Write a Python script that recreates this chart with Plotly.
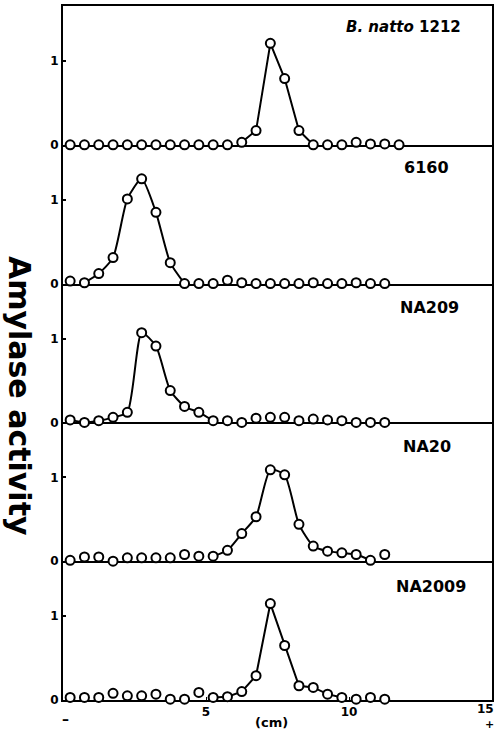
import plotly.graph_objects as go
from plotly.subplots import make_subplots

# ---------------- data ----------------
panel_labels = ["<i>B. natto</i> 1212", "6160", "NA209", "NA20", "NA2009"]

x_natto = [0.25, 0.75, 1.25, 1.75, 2.25, 2.75, 3.25, 3.75, 4.25, 4.75, 5.25, 5.75,
           6.25, 6.75, 7.25, 7.75, 8.25, 8.75, 9.25, 9.75, 10.25, 10.75, 11.25, 11.75]
y_natto = [0.0, 0.0, 0.0, 0.0, 0.0, 0.0, 0.0, 0.0, 0.0, 0.0, 0.0, 0.0,
           0.03, 0.17, 1.21, 0.79, 0.17, 0.0, 0.0, 0.0, 0.03, 0.01, 0.01, 0.0]

x_6160 = [0.25, 0.75, 1.25, 1.75, 2.25, 2.75, 3.25, 3.75, 4.25, 4.75, 5.25, 5.75,
          6.25, 6.75, 7.25, 7.75, 8.25, 8.75, 9.25, 9.75, 10.25, 10.75, 11.25]
y_6160 = [0.03, 0.01, 0.12, 0.31, 1.01, 1.25, 0.85, 0.25, 0.0, 0.0, 0.0, 0.04,
          0.01, 0.0, 0.0, 0.0, 0.0, 0.01, 0.0, 0.0, 0.01, 0.0, 0.0]

x_na209 = [0.25, 0.75, 1.25, 1.75, 2.25, 2.75, 3.25, 3.75, 4.25, 4.75, 5.25, 5.75,
           6.25, 6.75, 7.25, 7.75, 8.25, 8.75, 9.25, 9.75, 10.25, 10.75, 11.25]
y_na209 = [0.03, 0.0, 0.02, 0.06, 0.12, 1.07, 0.91, 0.38, 0.19, 0.12, 0.02, 0.02,
           0.0, 0.05, 0.06, 0.06, 0.02, 0.04, 0.03, 0.02, 0.0, 0.0, 0.0]

x_na20 = [0.25, 0.75, 1.25, 1.75, 2.25, 2.75, 3.25, 3.75, 4.25, 4.75, 5.25, 5.75,
          6.25, 6.75, 7.25, 7.75, 8.25, 8.75, 9.25, 9.75, 10.25, 10.75, 11.25]
y_na20 = [0.01, 0.05, 0.05, 0.0, 0.04, 0.04, 0.04, 0.04, 0.08, 0.06, 0.06, 0.13,
          0.33, 0.53, 1.09, 1.03, 0.44, 0.18, 0.12, 0.10, 0.08, 0.01, 0.08]

x_na2009 = [0.25, 0.75, 1.25, 1.75, 2.25, 2.75, 3.25, 3.75, 4.25, 4.75, 5.25, 5.75,
            6.25, 6.75, 7.25, 7.75, 8.25, 8.75, 9.25, 9.75, 10.25, 10.75, 11.25]
y_na2009 = [0.03, 0.03, 0.03, 0.08, 0.05, 0.05, 0.07, 0.01, 0.01, 0.09, 0.03, 0.04,
            0.10, 0.29, 1.15, 0.65, 0.17, 0.15, 0.07, 0.03, 0.01, 0.03, 0.01]

# index ranges of points joined by the drawn curve in each panel
connected = [(12, 17), (1, 8), (0, 10), (10, 21), (10, 19)]
smooth = [False, True, True, True, False]

x_ticks = [0, 5, 10, 15]
x_ticktext = ["", "5", "10", ""]
y_ticks = [0, 1]

series = [(x_natto, y_natto), (x_6160, y_6160), (x_na209, y_na209),
          (x_na20, y_na20), (x_na2009, y_na2009)]

# ---------------- figure ----------------
fig = make_subplots(rows=5, cols=1, shared_xaxes=True, vertical_spacing=0)

for i, (xs, ys) in enumerate(series):
    r = i + 1
    a, b = connected[i]
    fig.add_trace(go.Scatter(
        x=xs[a:b + 1], y=ys[a:b + 1], mode="lines",
        line=dict(color="black", width=2,
                  shape="spline" if smooth[i] else "linear", smoothing=0.6),
        cliponaxis=False, hoverinfo="skip", showlegend=False), row=r, col=1)
    fig.add_trace(go.Scatter(
        x=xs, y=ys, mode="markers",
        marker=dict(symbol="circle", size=9, color="white",
                    line=dict(color="black", width=2)),
        cliponaxis=False, showlegend=False), row=r, col=1)

    fig.update_yaxes(row=r, col=1, range=[0, 1.655], tickvals=y_ticks,
                     ticktext=["0", "1"], ticks="inside", ticklen=3,
                     tickwidth=1.5, tickcolor="black", automargin=False,
                     showline=True, mirror=True, linecolor="black", linewidth=2,
                     showgrid=False, zeroline=False, layer="below traces",
                     ticklabeloverflow="allow",
                     tickfont=dict(family="DejaVu Sans", size=12, color="black",
                                   weight="bold"))
    fig.update_xaxes(row=r, col=1, range=[0, 15], showline=True,
                     mirror=(r == 1), linecolor="black", linewidth=2,
                     showgrid=False, zeroline=False, layer="below traces",
                     automargin=False, ticklabeloverflow="allow",
                     tickvals=x_ticks, ticktext=x_ticktext,
                     ticks="inside" if r == 5 else "", ticklen=3,
                     tickcolor="black", showticklabels=(r == 5),
                     tickfont=dict(family="DejaVu Sans", size=12, color="black",
                                   weight="bold"))

label_pos = [(14.0, 1.40), (13.55, 1.38), (13.9, 1.37), (13.65, 1.37), (14.15, 1.35)]
for i, lab in enumerate(panel_labels):
    r = i + 1
    yref = "y" if r == 1 else f"y{r}"
    xref = "x" if r == 1 else f"x{r}"
    fig.add_annotation(x=label_pos[i][0], y=label_pos[i][1], xref=xref, yref=yref,
                       text=f"<b>{lab}</b>", showarrow=False, xanchor="right",
                       yanchor="middle",
                       font=dict(family="DejaVu Sans", size=15 if r == 1 else 16,
                                 color="black"))

# y title
fig.add_annotation(x=-0.100, y=0.438, xref="paper", yref="paper",
                   xanchor="center", yanchor="middle",
                   text="<b>Amylase activity</b>", textangle=90, showarrow=False,
                   font=dict(family="DejaVu Sans", size=30, color="black"))

# x axis extras
fig.add_annotation(x=15, y=-0.013, xref="x5", yref="paper", text="<b>15</b>",
                   showarrow=False, xanchor="right", yanchor="middle", xshift=4,
                   font=dict(family="DejaVu Sans", size=12, color="black"))
fig.add_annotation(x=7.3, y=-0.032, xref="x5", yref="paper", text="<b>(cm)</b>",
                   showarrow=False, xanchor="center", yanchor="middle",
                   font=dict(family="DejaVu Sans", size=13, color="black"))
fig.add_annotation(x=0.1, y=-0.027, xref="x5", yref="paper", text="<b>–</b>",
                   showarrow=False, xanchor="center", yanchor="middle",
                   font=dict(family="DejaVu Sans", size=14, color="black"))
fig.add_annotation(x=15, y=-0.035, xref="x5", yref="paper", text="<b>+</b>",
                   showarrow=False, xanchor="center", yanchor="middle", xshift=-3,
                   font=dict(family="DejaVu Sans", size=11, color="black"))

fig.update_layout(width=497, height=732,
                  margin=dict(l=63, r=5, t=6, b=32, autoexpand=False),
                  paper_bgcolor="white", plot_bgcolor="white",
                  showlegend=False)

fig.write_html("out.html", config={"displayModeBar": False},
               post_script="document.body.style.margin='0';document.body.style.overflow='hidden';")
